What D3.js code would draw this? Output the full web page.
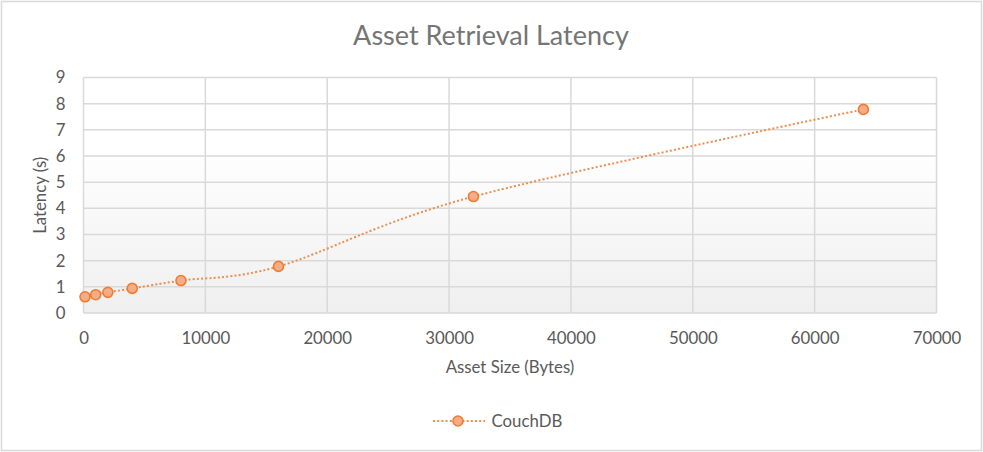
<!DOCTYPE html>
<html>
<head>
<meta charset="utf-8">
<script src="https://cdn.jsdelivr.net/npm/d3@7"></script>
<style>
  body { margin: 0; background: #fff; }
  svg { display: block; font-family: Lato, "Open Sans", sans-serif; }
</style>
</head>
<body>
<div id="chart"></div>
<script>
"use strict"

// data
const assetSizes = [125, 1000, 2000, 4000, 8000, 16000, 32000, 64000];
const latencies = [0.62, 0.70, 0.79, 0.94, 1.24, 1.78, 4.45, 7.78];
const xTicks = [0, 10000, 20000, 30000, 40000, 50000, 60000, 70000];
const yTicks = [0, 1, 2, 3, 4, 5, 6, 7, 8, 9];
const seriesName = "CouchDB";

const width = 983, height = 452;
const margin = { left: 83.5, right: 46.5, top: 77.5, bottom: 139 };
const labelSize = "16.8px";

const svg = d3.select("#chart").append("svg")
    .attr("width", width)
    .attr("height", height);

// outer chart border
svg.append("rect")
    .attr("x", 1.5).attr("y", 1.5)
    .attr("width", width - 3).attr("height", height - 3)
    .attr("fill", "#fff")
    .attr("stroke", "#d9d9d9")
    .attr("stroke-width", 1.5);

const x = d3.scaleLinear().domain([0, 70000]).range([margin.left, width - margin.right]);
const y = d3.scaleLinear().domain([0, 9]).range([height - margin.bottom, margin.top]);

const defs = svg.append("defs");
const grad = defs.append("linearGradient")
    .attr("id", "plotbg")
    .attr("x1", 0).attr("y1", 0).attr("x2", 0).attr("y2", 1);
grad.append("stop").attr("offset", "0%").attr("stop-color", "#ffffff");
grad.append("stop").attr("offset", "30%").attr("stop-color", "#ffffff");
grad.append("stop").attr("offset", "100%").attr("stop-color", "#efefef");

svg.append("rect")
    .attr("x", x(0)).attr("y", y(9))
    .attr("width", x(70000) - x(0))
    .attr("height", y(0) - y(9))
    .attr("fill", "url(#plotbg)");

// gridlines
svg.append("g").selectAll("line").data(yTicks).enter().append("line")
    .attr("x1", x(0)).attr("x2", x(70000))
    .attr("y1", d => y(d)).attr("y2", d => y(d))
    .attr("stroke", "#d9d9d9").attr("stroke-width", 1.5);

svg.append("g").selectAll("line").data(xTicks).enter().append("line")
    .attr("y1", y(0)).attr("y2", y(9))
    .attr("x1", d => x(d)).attr("x2", d => x(d))
    .attr("stroke", "#d9d9d9").attr("stroke-width", 1.5);

// axes (labels only)
const xAxis = svg.append("g")
    .attr("transform", `translate(0,${y(0)})`)
    .call(d3.axisBottom(x).tickValues(xTicks).tickFormat(d3.format("d")).tickSize(0).tickPadding(19));
const yAxis = svg.append("g")
    .attr("transform", `translate(${x(0)},0)`)
    .call(d3.axisLeft(y).tickValues(yTicks).tickSize(0).tickPadding(18));

[xAxis, yAxis].forEach(a => {
    a.select(".domain").remove();
    a.selectAll("text")
        .attr("fill", "#595959")
        .style("font-size", labelSize)
        .style("font-family", "Lato, sans-serif");
});

// title and axis titles
svg.append("text")
    .attr("x", 491).attr("y", 45)
    .attr("text-anchor", "middle")
    .attr("fill", "#757575")
    .style("font-size", "27px")
    .text("Asset Retrieval Latency");

svg.append("text")
    .attr("x", (x(0) + x(70000)) / 2).attr("y", 373)
    .attr("text-anchor", "middle")
    .attr("fill", "#595959")
    .style("font-size", labelSize)
    .text("Asset Size (Bytes)");

svg.append("text")
    .attr("transform", `translate(46,${(y(0) + y(9)) / 2}) rotate(-90)`)
    .attr("text-anchor", "middle")
    .attr("fill", "#595959")
    .style("font-size", labelSize)
    .text("Latency (s)");

// series
const points = assetSizes.map((s, i) => [s, latencies[i]]);
const line = d3.line()
    .x(d => x(d[0]))
    .y(d => y(d[1]))
    .curve(d3.curveCatmullRom.alpha(0));

svg.append("path")
    .datum(points)
    .attr("d", line)
    .attr("fill", "none")
    .attr("stroke", "#ef8d4f")
    .attr("stroke-width", 2)
    .attr("stroke-dasharray", "2,2.2");

svg.append("g").selectAll("circle").data(points).enter().append("circle")
    .attr("cx", d => x(d[0]))
    .attr("cy", d => y(d[1]))
    .attr("r", 5)
    .attr("fill", "#f5ad88")
    .attr("stroke", "#ed7d31")
    .attr("stroke-width", 1.6);

// legend
const legend = svg.append("g").attr("transform", "translate(433,421)");
legend.append("line")
    .attr("x1", 0).attr("x2", 52)
    .attr("stroke", "#ef8d4f").attr("stroke-width", 2)
    .attr("stroke-dasharray", "2,2.2");
legend.append("circle")
    .attr("cx", 25).attr("r", 5)
    .attr("fill", "#f5ad88").attr("stroke", "#ed7d31").attr("stroke-width", 1.6);
legend.append("text")
    .attr("x", 58.5).attr("y", 6)
    .attr("fill", "#595959")
    .style("font-size", labelSize)
    .text(seriesName);
</script>
</body>
</html>
